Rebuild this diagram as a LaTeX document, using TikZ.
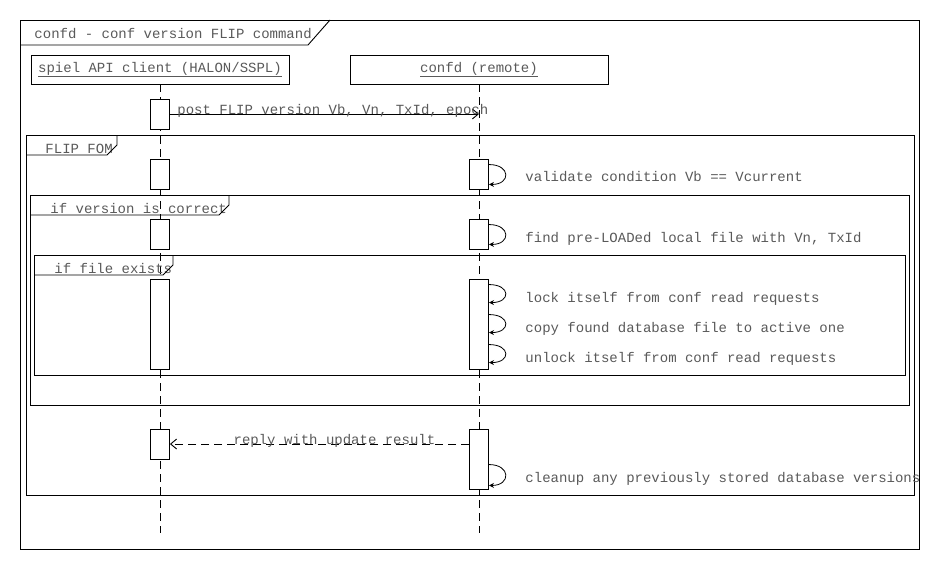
\documentclass[tikz,border=0pt]{standalone}
\usepackage{fontspec}
\setmonofont{Liberation Mono}
\usetikzlibrary{arrows.meta,positioning}

\begin{document}
\begin{tikzpicture}[x=1pt,y=-1pt,line width=0.9pt,
  font=\ttfamily\fontsize{14}{16}\selectfont,
  life/.style={dash pattern=on 8pt off 5pt},
  head/.style={draw,minimum width=258pt,minimum height=29pt,inner sep=0pt,text=black!65},
  act/.style={draw,fill=white,minimum width=19pt,inner sep=0pt},
  msg/.style={-{Straight Barb[length=6pt,width=10pt]}},
  reply/.style={msg,dash pattern=on 8pt off 5pt},
  self/.style={-{Stealth[length=5pt,width=5pt]},line width=0.8pt},
  txt/.style={anchor=base west,inner sep=0pt,text=black!65},
  lbl/.style={anchor=base,inner sep=0pt,text=black!65}]
 \useasboundingbox (0,0) rectangle (940,570);
 % lifelines
 \node[head] (client) at (160,69.5) {\underline{spiel API client (HALON/SSPL)}};
 \node[head] (confd) at (479,69.5) {\underline{confd (remote)}};
 \coordinate (cend) at (160,533);
 \coordinate (rend) at (479,533);
 \draw[life] (client) -- (cend);
 \draw[life] (confd) -- (rend);
 % outer frame
 \draw (20,20) rectangle (919,549);
 \node[txt] (title) at (34,38) {confd - conf version FLIP command};
 \draw (20,45) -- (308,45) -- (330,20);
 % fragments
 \draw (26,135) rectangle (914,495);
 \node[txt] (fom) at (45,153) {FLIP FOM};
 \draw (26,155) -- (107,155) -- (117,145) -- (117,135);
 \draw (30,195) rectangle (909,405);
 \node[txt] (vok) at (50,213) {if version is correct};
 \draw (30,215) -- (219,215) -- (229,205) -- (229,195);
 \draw (34,255) rectangle (905,375);
 \node[txt] (fok) at (54,273) {if file exists};
 \draw (34,275) -- (163,275) -- (173,265) -- (173,255);
 % activations
 \node[act,minimum height=30pt] (c1) at (160,114) {};
 \node[act,minimum height=30pt] (c2) at (160,174) {};
 \node[act,minimum height=30pt] (c3) at (160,234) {};
 \node[act,minimum height=90pt] (c4) at (160,324) {};
 \node[act,minimum height=30pt] (c5) at (160,444) {};
 \node[act,minimum height=30pt] (r1) at (479,174) {};
 \node[act,minimum height=30pt] (r2) at (479,234) {};
 \node[act,minimum height=90pt] (r3) at (479,324) {};
 \node[act,minimum height=60pt] (r4) at (479,459) {};
 % messages
 \draw[msg] (c1.east) -- (c1.east -| confd)
   node[lbl,pos=0,anchor=base west,xshift=7pt] (post) {post FLIP version Vb, Vn, TxId, epoch};
 \draw[reply] (r4.west |- c5) -- (c5.east)
   node[lbl,pos=0.45] (ans) {reply with update result};
 % self calls
 \draw[self] ([yshift=-6pt]r1.north east) .. controls +(22,0) and +(22,0) .. ([yshift=5pt]r1.south east);
 \draw[self] ([yshift=-6pt]r2.north east) .. controls +(22,0) and +(22,0) .. ([yshift=5pt]r2.south east);
 \foreach \s/\e in {6/24,36/54,66/84}
   \draw[self] ([yshift=-\s pt]r3.north east) .. controls +(22,0) and +(22,0) .. ([yshift=-\e pt]r3.north east);
 \draw[self] ([yshift=-36pt]r4.north east) .. controls +(22,0) and +(22,0) .. ([yshift=4pt]r4.south east);
 \node[txt] (validate) at (525,181) {validate condition Vb == Vcurrent};
 \node[txt] (find) at (525,242) {find pre-LOADed local file with Vn, TxId};
 \node[txt] (lock) at (525,302) {lock itself from conf read requests};
 \node[txt] (copy) at (525,332) {copy found database file to active one};
 \node[txt] (unlock) at (525,362) {unlock itself from conf read requests};
 \node[txt] (cleanup) at (525,482) {cleanup any previously stored database versions};
\end{tikzpicture}
\end{document}
